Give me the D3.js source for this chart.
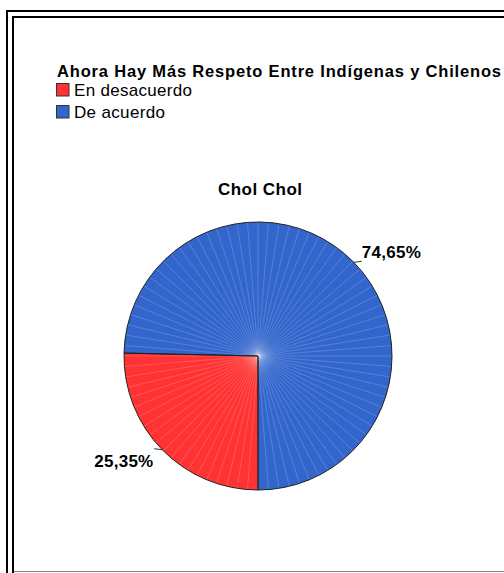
<!DOCTYPE html>
<html>
<head>
<meta charset="utf-8">
<script src="https://cdn.jsdelivr.net/npm/d3@7"></script>
<style>
    body { margin: 0; background: #fff; }
    svg { display: block; font-family: "Liberation Sans", Arial, sans-serif; }
</style>
</head>
<body>
<div id="chart"></div>
<script>
// Chart values
const categories = ['En desacuerdo', 'De acuerdo'];
const percents = [25.35, 74.65];
const labels = ['25,35%', '74,65%'];
const sliceColors = ['#ff3333', '#3366cc'];

const title = 'Ahora Hay Más Respeto Entre Indígenas y Chilenos';
const subTitle = 'Chol Chol';

const width = 504, height = 573;
const cx = 258, cy = 356, radius = 134;

const svg = d3.select('#chart').append('svg')
    .attr('width', width)
    .attr('height', height);

// Double frame (left and top only, the rest is cropped off)
svg.append('path')
    .attr('d', `M7,${height} V11 H${width}`)
    .attr('fill', 'none').attr('stroke', '#000').attr('stroke-width', 2);
svg.append('path')
    .attr('d', `M13,${height} V17 H${width}`)
    .attr('fill', 'none').attr('stroke', '#000').attr('stroke-width', 2);
svg.append('line')
    .attr('x1', 14).attr('x2', width)
    .attr('y1', 571.5).attr('y2', 571.5)
    .attr('stroke', '#888').attr('stroke-width', 1);

// Title and legend
svg.append('text')
    .attr('x', 57).attr('y', 77)
    .attr('font-size', 16.5).attr('font-weight', 'bold')
    .attr('textLength', 444).attr('lengthAdjust', 'spacing')
    .text(title);

const legend = svg.append('g').attr('class', 'legend');
const items = legend.selectAll('g')
    .data(categories)
    .enter()
    .append('g')
    .attr('transform', (d, i) => `translate(56, ${83 + i * 22})`);

items.append('rect')
    .attr('x', 0.5).attr('y', 0.5)
    .attr('width', 12.5).attr('height', 12.5)
    .attr('fill', (d, i) => sliceColors[i])
    .attr('stroke', '#333').attr('stroke-width', 1);

const legendWidths = [118, 91];
items.append('text')
    .attr('x', 18).attr('y', 12.5)
    .attr('font-size', 17)
    .attr('textLength', (d, i) => legendWidths[i]).attr('lengthAdjust', 'spacing')
    .text(d => d);

svg.append('text')
    .attr('x', 218).attr('y', 195)
    .attr('font-size', 17).attr('font-weight', 'bold')
    .attr('textLength', 84).attr('lengthAdjust', 'spacing')
    .text(subTitle);

// Pie
const pie = d3.pie()
    .sort(null)
    .startAngle(Math.PI)
    .endAngle(3 * Math.PI)
    .value(d => d);

const arc = d3.arc().innerRadius(0).outerRadius(radius);
const arcs = pie(percents);

const defs = svg.append('defs');
const glow = defs.append('radialGradient').attr('id', 'glow');
glow.append('stop').attr('offset', '0%').attr('stop-color', '#fff').attr('stop-opacity', 0.15);
glow.append('stop').attr('offset', '100%').attr('stop-color', '#fff').attr('stop-opacity', 0);

const g = svg.append('g').attr('transform', `translate(${cx}, ${cy})`);

g.selectAll('path.slice')
    .data(arcs)
    .enter()
    .append('path')
    .attr('class', 'slice')
    .attr('d', arc)
    .attr('fill', (d, i) => sliceColors[i]);

// faint radial streaks from the rendering gradient
const streakAngles = d3.range(0, 360, 4.5);
g.selectAll('line.streak')
    .data(streakAngles)
    .enter()
    .append('line')
    .attr('class', 'streak')
    .attr('x1', 0).attr('y1', 0)
    .attr('x2', a => radius * Math.sin(a * Math.PI / 180))
    .attr('y2', a => -radius * Math.cos(a * Math.PI / 180))
    .attr('stroke', '#fff')
    .attr('stroke-opacity', 0.25)
    .attr('stroke-width', 0.7);

g.append('circle')
    .attr('r', 18)
    .attr('fill', 'url(#glow)');

g.selectAll('path.outline')
    .data(arcs)
    .enter()
    .append('path')
    .attr('class', 'outline')
    .attr('d', arc)
    .attr('fill', 'none')
    .attr('stroke', '#222')
    .attr('stroke-width', 1);

// Labels with short leader lines
arcs.forEach((d, i) => {
    const mid = (d.startAngle + d.endAngle) / 2;
    const px = radius * Math.sin(mid);
    const py = -radius * Math.cos(mid);
    const side = px >= 0 ? 1 : -1;
    g.append('line')
        .attr('x1', px).attr('y1', py)
        .attr('x2', px + side * 8).attr('y2', py - 1)
        .attr('stroke', '#333').attr('stroke-width', 1);
    g.append('text')
        .attr('x', side > 0 ? px + 8 : px - 68)
        .attr('y', side > 0 ? py - 4 : py + 17)
        .attr('font-size', 17).attr('font-weight', 'bold')
        .attr('textLength', 59).attr('lengthAdjust', 'spacing')
        .text(labels[i]);
});
</script>
</body>
</html>
